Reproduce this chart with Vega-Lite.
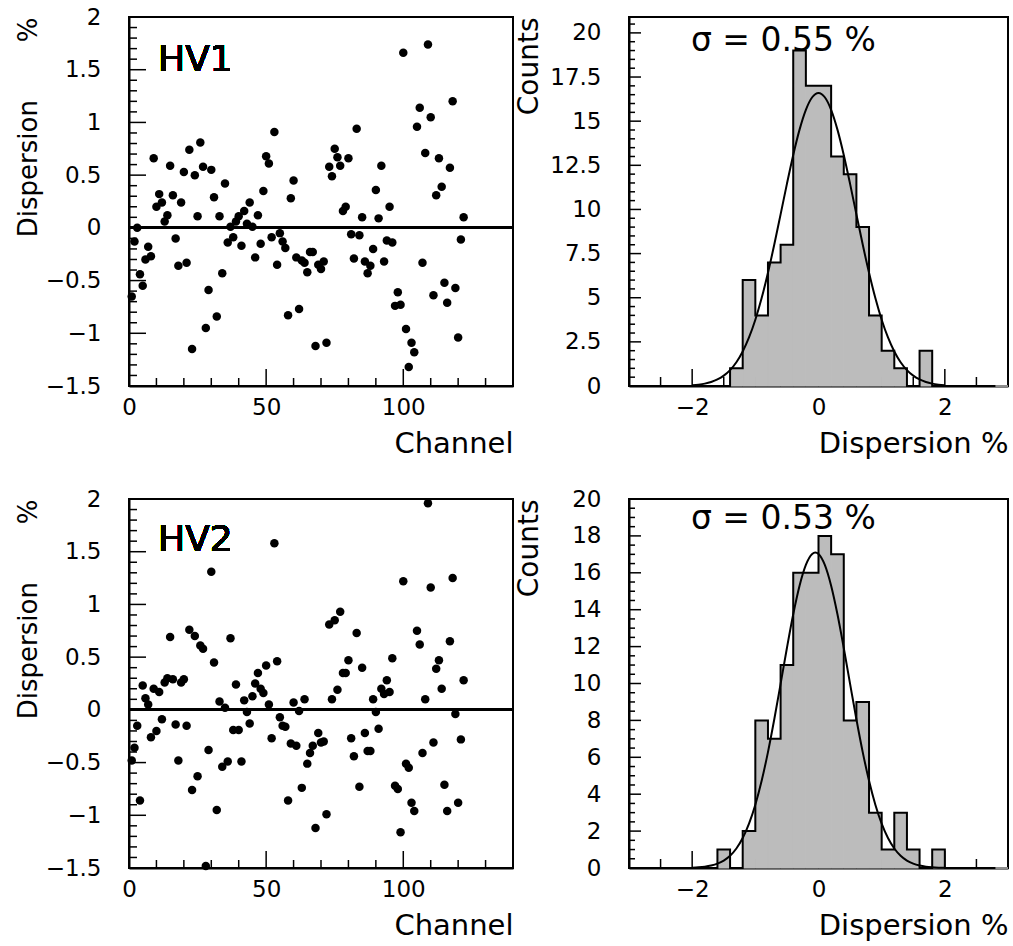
{
  "$schema": "https://vega.github.io/schema/vega-lite/v6.json",
  "background": "white",
  "padding": {"left": 14, "top": 5, "right": 5, "bottom": 5},
  "datasets": {
    "hv1": [
      {"channel":1,"dispersion":-0.65},{"channel":2,"dispersion":-0.13},{"channel":3,"dispersion":0.00},{"channel":4,"dispersion":-0.44},{"channel":5,"dispersion":-0.55},{"channel":6,"dispersion":-0.30},{"channel":7,"dispersion":-0.18},{"channel":8,"dispersion":-0.27},{"channel":9,"dispersion":0.66},{"channel":10,"dispersion":0.20},
      {"channel":11,"dispersion":0.32},{"channel":12,"dispersion":0.24},{"channel":13,"dispersion":0.06},{"channel":14,"dispersion":0.12},{"channel":15,"dispersion":0.59},{"channel":16,"dispersion":0.31},{"channel":17,"dispersion":-0.10},{"channel":18,"dispersion":-0.36},{"channel":19,"dispersion":0.24},{"channel":20,"dispersion":0.53},
      {"channel":21,"dispersion":-0.33},{"channel":22,"dispersion":0.74},{"channel":23,"dispersion":-1.15},{"channel":24,"dispersion":0.50},{"channel":25,"dispersion":0.11},{"channel":26,"dispersion":0.81},{"channel":27,"dispersion":0.58},{"channel":28,"dispersion":-0.95},{"channel":29,"dispersion":-0.59},{"channel":30,"dispersion":0.55},
      {"channel":31,"dispersion":0.29},{"channel":32,"dispersion":-0.84},{"channel":33,"dispersion":0.11},{"channel":34,"dispersion":-0.43},{"channel":35,"dispersion":0.42},{"channel":36,"dispersion":-0.14},{"channel":37,"dispersion":0.01},{"channel":38,"dispersion":-0.09},{"channel":39,"dispersion":0.06},{"channel":40,"dispersion":0.11},
      {"channel":41,"dispersion":-0.17},{"channel":42,"dispersion":0.16},{"channel":43,"dispersion":0.04},{"channel":44,"dispersion":0.24},{"channel":45,"dispersion":0.01},{"channel":46,"dispersion":-0.28},{"channel":47,"dispersion":0.12},{"channel":48,"dispersion":-0.15},{"channel":49,"dispersion":0.35},{"channel":50,"dispersion":0.68},
      {"channel":51,"dispersion":0.61},{"channel":52,"dispersion":-0.09},{"channel":53,"dispersion":0.91},{"channel":54,"dispersion":-0.35},{"channel":55,"dispersion":-0.05},{"channel":56,"dispersion":-0.13},{"channel":57,"dispersion":-0.19},{"channel":58,"dispersion":-0.83},{"channel":59,"dispersion":0.28},{"channel":60,"dispersion":0.45},
      {"channel":61,"dispersion":-0.28},{"channel":62,"dispersion":-0.77},{"channel":63,"dispersion":-0.31},{"channel":64,"dispersion":-0.33},{"channel":65,"dispersion":-0.42},{"channel":66,"dispersion":-0.23},{"channel":67,"dispersion":-0.23},{"channel":68,"dispersion":-1.12},{"channel":69,"dispersion":-0.35},{"channel":70,"dispersion":-0.39},
      {"channel":71,"dispersion":-0.32},{"channel":72,"dispersion":-1.09},{"channel":73,"dispersion":0.58},{"channel":74,"dispersion":0.49},{"channel":75,"dispersion":0.75},{"channel":76,"dispersion":0.67},{"channel":77,"dispersion":0.59},{"channel":78,"dispersion":0.16},{"channel":79,"dispersion":0.20},{"channel":80,"dispersion":0.66},
      {"channel":81,"dispersion":-0.06},{"channel":82,"dispersion":-0.29},{"channel":83,"dispersion":0.94},{"channel":84,"dispersion":-0.07},{"channel":85,"dispersion":0.10},{"channel":86,"dispersion":-0.32},{"channel":87,"dispersion":-0.43},{"channel":88,"dispersion":-0.36},{"channel":89,"dispersion":-0.20},{"channel":90,"dispersion":0.36},
      {"channel":91,"dispersion":0.09},{"channel":92,"dispersion":0.59},{"channel":93,"dispersion":-0.32},{"channel":94,"dispersion":-0.12},{"channel":95,"dispersion":0.20},{"channel":96,"dispersion":-0.14},{"channel":97,"dispersion":-0.74},{"channel":98,"dispersion":-0.61},{"channel":99,"dispersion":-0.73},{"channel":100,"dispersion":1.66},
      {"channel":101,"dispersion":-0.96},{"channel":102,"dispersion":-1.32},{"channel":103,"dispersion":-1.09},{"channel":104,"dispersion":-1.18},{"channel":105,"dispersion":0.96},{"channel":106,"dispersion":1.14},{"channel":107,"dispersion":-0.33},{"channel":108,"dispersion":0.71},{"channel":109,"dispersion":1.74},{"channel":110,"dispersion":1.05},
      {"channel":111,"dispersion":-0.64},{"channel":112,"dispersion":0.31},{"channel":113,"dispersion":0.66},{"channel":114,"dispersion":0.39},{"channel":115,"dispersion":-0.52},{"channel":116,"dispersion":-0.71},{"channel":117,"dispersion":0.57},{"channel":118,"dispersion":1.20},{"channel":119,"dispersion":-0.57},{"channel":120,"dispersion":-1.04},
      {"channel":121,"dispersion":-0.11},{"channel":122,"dispersion":0.10}
    ],
    "hv2": [
      {"channel":1,"dispersion":-0.48},{"channel":2,"dispersion":-0.36},{"channel":3,"dispersion":-0.15},{"channel":4,"dispersion":-0.86},{"channel":5,"dispersion":0.23},{"channel":6,"dispersion":0.11},{"channel":7,"dispersion":0.05},{"channel":8,"dispersion":-0.26},{"channel":9,"dispersion":0.20},{"channel":10,"dispersion":-0.20},
      {"channel":11,"dispersion":0.17},{"channel":12,"dispersion":-0.09},{"channel":13,"dispersion":0.26},{"channel":14,"dispersion":0.30},{"channel":15,"dispersion":0.69},{"channel":16,"dispersion":0.29},{"channel":17,"dispersion":-0.14},{"channel":18,"dispersion":-0.48},{"channel":19,"dispersion":0.26},{"channel":20,"dispersion":0.29},
      {"channel":21,"dispersion":-0.15},{"channel":22,"dispersion":0.76},{"channel":23,"dispersion":-0.76},{"channel":24,"dispersion":0.70},{"channel":25,"dispersion":-0.63},{"channel":26,"dispersion":0.61},{"channel":27,"dispersion":0.58},{"channel":28,"dispersion":-1.48},{"channel":29,"dispersion":-0.38},{"channel":30,"dispersion":1.31},
      {"channel":31,"dispersion":0.45},{"channel":32,"dispersion":-0.95},{"channel":33,"dispersion":0.08},{"channel":34,"dispersion":-0.54},{"channel":35,"dispersion":0.02},{"channel":36,"dispersion":-0.49},{"channel":37,"dispersion":0.68},{"channel":38,"dispersion":-0.19},{"channel":39,"dispersion":0.24},{"channel":40,"dispersion":-0.19},
      {"channel":41,"dispersion":-0.49},{"channel":42,"dispersion":0.09},{"channel":43,"dispersion":-0.02},{"channel":44,"dispersion":-0.13},{"channel":45,"dispersion":0.13},{"channel":46,"dispersion":0.25},{"channel":47,"dispersion":0.35},{"channel":48,"dispersion":0.20},{"channel":49,"dispersion":0.16},{"channel":50,"dispersion":0.42},
      {"channel":51,"dispersion":0.05},{"channel":52,"dispersion":-0.27},{"channel":53,"dispersion":1.58},{"channel":54,"dispersion":0.46},{"channel":55,"dispersion":-0.07},{"channel":56,"dispersion":-0.15},{"channel":57,"dispersion":-0.16},{"channel":58,"dispersion":-0.86},{"channel":59,"dispersion":-0.32},{"channel":60,"dispersion":0.07},
      {"channel":61,"dispersion":-0.34},{"channel":62,"dispersion":-0.01},{"channel":63,"dispersion":-0.74},{"channel":64,"dispersion":0.10},{"channel":65,"dispersion":-0.51},{"channel":66,"dispersion":-0.41},{"channel":67,"dispersion":-0.34},{"channel":68,"dispersion":-1.12},{"channel":69,"dispersion":-0.22},{"channel":70,"dispersion":-0.31},
      {"channel":71,"dispersion":-0.30},{"channel":72,"dispersion":-0.99},{"channel":73,"dispersion":0.81},{"channel":74,"dispersion":0.10},{"channel":75,"dispersion":0.85},{"channel":76,"dispersion":0.19},{"channel":77,"dispersion":0.93},{"channel":78,"dispersion":0.35},{"channel":79,"dispersion":0.35},{"channel":80,"dispersion":0.47},
      {"channel":81,"dispersion":-0.27},{"channel":82,"dispersion":-0.44},{"channel":83,"dispersion":0.73},{"channel":84,"dispersion":-0.73},{"channel":85,"dispersion":0.40},{"channel":86,"dispersion":-0.22},{"channel":87,"dispersion":-0.39},{"channel":88,"dispersion":-0.39},{"channel":89,"dispersion":0.10},{"channel":90,"dispersion":-0.02},
      {"channel":91,"dispersion":-0.18},{"channel":92,"dispersion":0.20},{"channel":93,"dispersion":0.15},{"channel":94,"dispersion":0.28},{"channel":95,"dispersion":0.17},{"channel":96,"dispersion":0.49},{"channel":97,"dispersion":-0.72},{"channel":98,"dispersion":-0.75},{"channel":99,"dispersion":-1.16},{"channel":100,"dispersion":1.22},
      {"channel":101,"dispersion":-0.51},{"channel":102,"dispersion":-0.55},{"channel":103,"dispersion":-0.88},{"channel":104,"dispersion":-0.96},{"channel":105,"dispersion":0.75},{"channel":106,"dispersion":0.62},{"channel":107,"dispersion":-0.41},{"channel":108,"dispersion":0.10},{"channel":109,"dispersion":1.96},{"channel":110,"dispersion":1.16},
      {"channel":111,"dispersion":-0.31},{"channel":112,"dispersion":0.39},{"channel":113,"dispersion":0.47},{"channel":114,"dispersion":0.20},{"channel":115,"dispersion":-0.71},{"channel":116,"dispersion":-0.96},{"channel":117,"dispersion":0.65},{"channel":118,"dispersion":1.25},{"channel":119,"dispersion":-0.04},{"channel":120,"dispersion":-0.88},
      {"channel":121,"dispersion":-0.28},{"channel":122,"dispersion":0.28}
    ],
    "hist1": [
      {"lo":-3.0,"hi":-2.8,"count":0},{"lo":-2.8,"hi":-2.6,"count":0},{"lo":-2.6,"hi":-2.4,"count":0},{"lo":-2.4,"hi":-2.2,"count":0},{"lo":-2.2,"hi":-2.0,"count":0},
      {"lo":-2.0,"hi":-1.8,"count":0},{"lo":-1.8,"hi":-1.6,"count":0},{"lo":-1.6,"hi":-1.4,"count":0},{"lo":-1.4,"hi":-1.2,"count":1},{"lo":-1.2,"hi":-1.0,"count":6},
      {"lo":-1.0,"hi":-0.8,"count":4},{"lo":-0.8,"hi":-0.6,"count":7},{"lo":-0.6,"hi":-0.4,"count":8},{"lo":-0.4,"hi":-0.2,"count":19},{"lo":-0.2,"hi":0.0,"count":17},
      {"lo":0.0,"hi":0.2,"count":17},{"lo":0.2,"hi":0.4,"count":13},{"lo":0.4,"hi":0.6,"count":12},{"lo":0.6,"hi":0.8,"count":9},{"lo":0.8,"hi":1.0,"count":4},
      {"lo":1.0,"hi":1.2,"count":2},{"lo":1.2,"hi":1.4,"count":1},{"lo":1.4,"hi":1.6,"count":0},{"lo":1.6,"hi":1.8,"count":2},{"lo":1.8,"hi":2.0,"count":0},
      {"lo":2.0,"hi":2.2,"count":0},{"lo":2.2,"hi":2.4,"count":0},{"lo":2.4,"hi":2.6,"count":0},{"lo":2.6,"hi":2.8,"count":0},{"lo":2.8,"hi":3.0,"count":0}
    ],
    "hist2": [
      {"lo":-3.0,"hi":-2.8,"count":0},{"lo":-2.8,"hi":-2.6,"count":0},{"lo":-2.6,"hi":-2.4,"count":0},{"lo":-2.4,"hi":-2.2,"count":0},{"lo":-2.2,"hi":-2.0,"count":0},
      {"lo":-2.0,"hi":-1.8,"count":0},{"lo":-1.8,"hi":-1.6,"count":0},{"lo":-1.6,"hi":-1.4,"count":1},{"lo":-1.4,"hi":-1.2,"count":0},{"lo":-1.2,"hi":-1.0,"count":2},
      {"lo":-1.0,"hi":-0.8,"count":8},{"lo":-0.8,"hi":-0.6,"count":7},{"lo":-0.6,"hi":-0.4,"count":11},{"lo":-0.4,"hi":-0.2,"count":16},{"lo":-0.2,"hi":0.0,"count":16},
      {"lo":0.0,"hi":0.2,"count":18},{"lo":0.2,"hi":0.4,"count":17},{"lo":0.4,"hi":0.6,"count":8},{"lo":0.6,"hi":0.8,"count":9},{"lo":0.8,"hi":1.0,"count":3},
      {"lo":1.0,"hi":1.2,"count":1},{"lo":1.2,"hi":1.4,"count":3},{"lo":1.4,"hi":1.6,"count":1},{"lo":1.6,"hi":1.8,"count":0},{"lo":1.8,"hi":2.0,"count":1},
      {"lo":2.0,"hi":2.2,"count":0},{"lo":2.2,"hi":2.4,"count":0},{"lo":2.4,"hi":2.6,"count":0},{"lo":2.6,"hi":2.8,"count":0},{"lo":2.8,"hi":3.0,"count":0}
    ],
    "fit1": [
      {"x":-2.0,"y":0.043},{"x":-1.9,"y":0.078},{"x":-1.8,"y":0.134},{"x":-1.7,"y":0.226},{"x":-1.6,"y":0.370},{"x":-1.5,"y":0.586},{"x":-1.4,"y":0.902},{"x":-1.3,"y":1.346},{"x":-1.2,"y":1.953},{"x":-1.1,"y":2.748},
      {"x":-1.0,"y":3.755},{"x":-0.9,"y":4.980},{"x":-0.8,"y":6.412},{"x":-0.7,"y":8.013},{"x":-0.6,"y":9.721},{"x":-0.5,"y":11.448},{"x":-0.4,"y":13.087},{"x":-0.3,"y":14.521},{"x":-0.2,"y":15.642},{"x":-0.1,"y":16.355},
      {"x":0.0,"y":16.6},
      {"x":0.1,"y":16.355},{"x":0.2,"y":15.642},{"x":0.3,"y":14.521},{"x":0.4,"y":13.087},{"x":0.5,"y":11.448},{"x":0.6,"y":9.721},{"x":0.7,"y":8.013},{"x":0.8,"y":6.412},{"x":0.9,"y":4.980},{"x":1.0,"y":3.755},
      {"x":1.1,"y":2.748},{"x":1.2,"y":1.953},{"x":1.3,"y":1.346},{"x":1.4,"y":0.902},{"x":1.5,"y":0.586},{"x":1.6,"y":0.370},{"x":1.7,"y":0.226},{"x":1.8,"y":0.134},{"x":1.9,"y":0.078},{"x":2.0,"y":0.043}
    ],
    "fit2": [
      {"x":-2.0,"y":0.020},{"x":-1.9,"y":0.039},{"x":-1.8,"y":0.073},{"x":-1.7,"y":0.135},{"x":-1.6,"y":0.238},{"x":-1.5,"y":0.405},{"x":-1.4,"y":0.667},{"x":-1.3,"y":1.059},{"x":-1.2,"y":1.624},{"x":-1.1,"y":2.403},
      {"x":-1.0,"y":3.430},{"x":-0.9,"y":4.726},{"x":-0.8,"y":6.283},{"x":-0.7,"y":8.061},{"x":-0.6,"y":9.981},{"x":-0.5,"y":11.925},{"x":-0.4,"y":13.750},{"x":-0.3,"y":15.300},{"x":-0.2,"y":16.429},{"x":-0.1,"y":17.024},
      {"x":-0.05,"y":17.1},
      {"x":0.0,"y":17.024},{"x":0.1,"y":16.429},{"x":0.2,"y":15.300},{"x":0.3,"y":13.750},{"x":0.4,"y":11.925},{"x":0.5,"y":9.981},{"x":0.6,"y":8.061},{"x":0.7,"y":6.283},{"x":0.8,"y":4.726},{"x":0.9,"y":3.430},
      {"x":1.0,"y":2.403},{"x":1.1,"y":1.624},{"x":1.2,"y":1.059},{"x":1.3,"y":0.667},{"x":1.4,"y":0.405},{"x":1.5,"y":0.238},{"x":1.6,"y":0.135},{"x":1.7,"y":0.073},{"x":1.8,"y":0.039},{"x":1.9,"y":0.020},{"x":2.0,"y":0.010}
    ],
    "sxMajor": [{"v":0},{"v":50},{"v":100}],
    "sxMinor": [{"v":10},{"v":20},{"v":30},{"v":40},{"v":60},{"v":70},{"v":80},{"v":90},{"v":110},{"v":120},{"v":130}],
    "syMajor": [{"v":-1.5},{"v":-1},{"v":-0.5},{"v":0},{"v":0.5},{"v":1},{"v":1.5},{"v":2}],
    "syMinor": [{"v":-1.4},{"v":-1.3},{"v":-1.2},{"v":-1.1},{"v":-0.9},{"v":-0.8},{"v":-0.7},{"v":-0.6},{"v":-0.4},{"v":-0.3},{"v":-0.2},{"v":-0.1},{"v":0.1},{"v":0.2},{"v":0.3},{"v":0.4},{"v":0.6},{"v":0.7},{"v":0.8},{"v":0.9},{"v":1.1},{"v":1.2},{"v":1.3},{"v":1.4},{"v":1.6},{"v":1.7},{"v":1.8},{"v":1.9}],
    "hxMajor": [{"v":-2},{"v":0},{"v":2}],
    "hxMinor": [{"v":-2.5},{"v":-1.5},{"v":-1},{"v":-0.5},{"v":0.5},{"v":1},{"v":1.5},{"v":2.5}],
    "h1yMajor": [{"v":0},{"v":2.5},{"v":5},{"v":7.5},{"v":10},{"v":12.5},{"v":15},{"v":17.5},{"v":20}],
    "h1yMinor": [{"v":0.5},{"v":1},{"v":1.5},{"v":2},{"v":3},{"v":3.5},{"v":4},{"v":4.5},{"v":5.5},{"v":6},{"v":6.5},{"v":7},{"v":8},{"v":8.5},{"v":9},{"v":9.5},{"v":10.5},{"v":11},{"v":11.5},{"v":12},{"v":13},{"v":13.5},{"v":14},{"v":14.5},{"v":15.5},{"v":16},{"v":16.5},{"v":17},{"v":18},{"v":18.5},{"v":19},{"v":19.5},{"v":20.5}],
    "h2yMajor": [{"v":0},{"v":2},{"v":4},{"v":6},{"v":8},{"v":10},{"v":12},{"v":14},{"v":16},{"v":18},{"v":20}],
    "h2yMinor": [{"v":0.5},{"v":1},{"v":1.5},{"v":2.5},{"v":3},{"v":3.5},{"v":4.5},{"v":5},{"v":5.5},{"v":6.5},{"v":7},{"v":7.5},{"v":8.5},{"v":9},{"v":9.5},{"v":10.5},{"v":11},{"v":11.5},{"v":12.5},{"v":13},{"v":13.5},{"v":14.5},{"v":15},{"v":15.5},{"v":16.5},{"v":17},{"v":17.5},{"v":18.5},{"v":19},{"v":19.5}]
  },
  "config": {
    "font": "DejaVu Sans",
    "view": {"stroke": "black", "strokeWidth": 2},
    "axis": {
      "ticks": false,
      "grid": false,
      "tickCount": 1000,
      "domainColor": "black",
      "domainWidth": 2,
      "labelFont": "DejaVu Sans",
      "labelFontSize": 23,
      "labelColor": "black",
      "labelFlush": false,
      "labelOverlap": false,
      "titleFont": "DejaVu Sans",
      "titleFontSize": 29,
      "titleFontWeight": "normal",
      "titleColor": "black",
      "format": ".4~r"
    },
    "text": {"font": "DejaVu Sans", "color": "black"}
  },
  "concat": [
    {
      "width": 384, "height": 369,
      "data": {"name": "hv1"},
      "layer": [
        {"data": {"name": "sxMajor"}, "mark": {"type": "rule", "color": "black", "strokeWidth": 1.5, "y2Offset": -17},
         "encoding": {"x": {"field": "v", "type": "quantitative", "scale": {"domain": [0, 140], "nice": false, "zero": false}},
                      "y": {"datum": -1.5, "type": "quantitative", "scale": {"domain": [-1.5, 2], "nice": false, "zero": false}}, "y2": {"datum": -1.5}}},
        {"data": {"name": "sxMinor"}, "mark": {"type": "rule", "color": "black", "strokeWidth": 1.5, "y2Offset": -8},
         "encoding": {"x": {"field": "v", "type": "quantitative", "scale": {"domain": [0, 140], "nice": false, "zero": false}},
                      "y": {"datum": -1.5, "type": "quantitative", "scale": {"domain": [-1.5, 2], "nice": false, "zero": false}}, "y2": {"datum": -1.5}}},
        {"data": {"name": "syMajor"}, "mark": {"type": "rule", "color": "black", "strokeWidth": 1.5, "x2Offset": 17},
         "encoding": {"y": {"field": "v", "type": "quantitative", "scale": {"domain": [-1.5, 2], "nice": false, "zero": false}},
                      "x": {"datum": 0, "type": "quantitative", "scale": {"domain": [0, 140], "nice": false, "zero": false}}, "x2": {"datum": 0}}},
        {"data": {"name": "syMinor"}, "mark": {"type": "rule", "color": "black", "strokeWidth": 1.5, "x2Offset": 8},
         "encoding": {"y": {"field": "v", "type": "quantitative", "scale": {"domain": [-1.5, 2], "nice": false, "zero": false}},
                      "x": {"datum": 0, "type": "quantitative", "scale": {"domain": [0, 140], "nice": false, "zero": false}}, "x2": {"datum": 0}}},
        {"mark": {"type": "rule", "color": "black", "strokeWidth": 2},
         "encoding": {"y": {"datum": 0, "type": "quantitative", "scale": {"domain": [-1.5, 2], "nice": false, "zero": false}}}},
        {"mark": {"type": "point", "shape": "circle", "filled": true, "color": "black", "opacity": 1, "size": 72},
         "encoding": {
           "x": {"field": "channel", "type": "quantitative", "scale": {"domain": [0, 140], "nice": false, "zero": false},
                 "axis": {"orient": "bottom", "title": "Channel", "titleAnchor": "end", "titlePadding": 10, "labelPadding": 10, "labelOverlap": false, "tickCount": 1000,
                          "values": [0, 50, 100]}},
           "y": {"field": "dispersion", "type": "quantitative", "scale": {"domain": [-1.5, 2], "nice": false, "zero": false},
                 "axis": {"orient": "left", "title": "Dispersion\u00a0\u00a0\u00a0\u00a0\u00a0\u00a0\u00a0%", "titleFontSize": 26, "titleAnchor": "end", "titlePadding": 4, "labelPadding": 28, "labelOverlap": false, "tickCount": 1000,
                          "values": [-1.5,-1,-0.5,0,0.5,1,1.5,2]}}
         }},
        {"mark": {"type": "text", "text": "HV1", "fontSize": 36, "align": "left", "baseline": "alphabetic"},
         "encoding": {
           "x": {"datum": 10.6, "type": "quantitative", "scale": {"domain": [0, 140], "nice": false, "zero": false}},
           "y": {"datum": 1.49, "type": "quantitative", "scale": {"domain": [-1.5, 2], "nice": false, "zero": false}}
         }}
      ]
    },
    {
      "width": 379, "height": 369,
      "layer": [
        {"data": {"name": "hxMajor"}, "mark": {"type": "rule", "color": "black", "strokeWidth": 1.5, "y2Offset": -17},
         "encoding": {"x": {"field": "v", "type": "quantitative", "scale": {"domain": [-3, 3], "nice": false, "zero": false}},
                      "y": {"datum": 0, "type": "quantitative", "scale": {"domain": [0, 20.9], "nice": false, "zero": true}}, "y2": {"datum": 0}}},
        {"data": {"name": "hxMinor"}, "mark": {"type": "rule", "color": "black", "strokeWidth": 1.5, "y2Offset": -9},
         "encoding": {"x": {"field": "v", "type": "quantitative", "scale": {"domain": [-3, 3], "nice": false, "zero": false}},
                      "y": {"datum": 0, "type": "quantitative", "scale": {"domain": [0, 20.9], "nice": false, "zero": true}}, "y2": {"datum": 0}}},
        {"data": {"name": "h1yMajor"}, "mark": {"type": "rule", "color": "black", "strokeWidth": 1.5, "x2Offset": 12},
         "encoding": {"y": {"field": "v", "type": "quantitative", "scale": {"domain": [0, 20.9], "nice": false, "zero": true}},
                      "x": {"datum": -3, "type": "quantitative", "scale": {"domain": [-3, 3], "nice": false, "zero": false}}, "x2": {"datum": -3}}},
        {"data": {"name": "h1yMinor"}, "mark": {"type": "rule", "color": "black", "strokeWidth": 1.5, "x2Offset": 6},
         "encoding": {"y": {"field": "v", "type": "quantitative", "scale": {"domain": [0, 20.9], "nice": false, "zero": true}},
                      "x": {"datum": -3, "type": "quantitative", "scale": {"domain": [-3, 3], "nice": false, "zero": false}}, "x2": {"datum": -3}}},
        {"data": {"name": "hist1"},
         "mark": {"type": "rect", "color": "#bcbcbc", "stroke": "#bcbcbc", "strokeWidth": 1},
         "encoding": {
           "x": {"field": "lo", "type": "quantitative", "scale": {"domain": [-3, 3], "nice": false, "zero": false},
                 "axis": {"orient": "bottom", "title": "Dispersion %", "titleAnchor": "end", "titlePadding": 10, "labelPadding": 10, "labelOverlap": false, "tickCount": 1000,
                          "values": [-2, 0, 2]}},
           "x2": {"field": "hi"},
           "y": {"field": "count", "type": "quantitative", "scale": {"domain": [0, 20.9], "nice": false, "zero": true},
                 "axis": {"orient": "left", "title": "Counts", "titleFontSize": 28, "titleAnchor": "end", "titlePadding": 6, "labelPadding": 28, "labelOverlap": false, "tickCount": 1000,
                          "values": [0,2.5,5,7.5,10,12.5,15,17.5,20]}},
           "y2": {"datum": 0}
         }},
        {"data": {"name": "hist1"},
         "mark": {"type": "line", "interpolate": "step-after", "color": "black", "strokeWidth": 2},
         "encoding": {
           "x": {"field": "lo", "type": "quantitative", "scale": {"domain": [-3, 3], "nice": false, "zero": false}},
           "y": {"field": "count", "type": "quantitative", "scale": {"domain": [0, 20.9], "nice": false, "zero": true}}
         }},
        {"data": {"name": "fit1"},
         "mark": {"type": "line", "interpolate": "monotone", "color": "black", "strokeWidth": 2},
         "encoding": {
           "x": {"field": "x", "type": "quantitative", "scale": {"domain": [-3, 3], "nice": false, "zero": false}},
           "y": {"field": "y", "type": "quantitative", "scale": {"domain": [0, 20.9], "nice": false, "zero": true}}
         }},
        {"data": {"values": [{}]},
         "mark": {"type": "text", "text": "σ = 0.55 %", "fontSize": 33, "align": "left", "baseline": "alphabetic"},
         "encoding": {
           "x": {"datum": -2.02, "type": "quantitative", "scale": {"domain": [-3, 3], "nice": false, "zero": false}},
           "y": {"datum": 18.98, "type": "quantitative", "scale": {"domain": [0, 20.9], "nice": false, "zero": true}}
         }}
      ]
    },
    {
      "width": 384, "height": 369,
      "data": {"name": "hv2"},
      "layer": [
        {"data": {"name": "sxMajor"}, "mark": {"type": "rule", "color": "black", "strokeWidth": 1.5, "y2Offset": -17},
         "encoding": {"x": {"field": "v", "type": "quantitative", "scale": {"domain": [0, 140], "nice": false, "zero": false}},
                      "y": {"datum": -1.5, "type": "quantitative", "scale": {"domain": [-1.5, 2], "nice": false, "zero": false}}, "y2": {"datum": -1.5}}},
        {"data": {"name": "sxMinor"}, "mark": {"type": "rule", "color": "black", "strokeWidth": 1.5, "y2Offset": -8},
         "encoding": {"x": {"field": "v", "type": "quantitative", "scale": {"domain": [0, 140], "nice": false, "zero": false}},
                      "y": {"datum": -1.5, "type": "quantitative", "scale": {"domain": [-1.5, 2], "nice": false, "zero": false}}, "y2": {"datum": -1.5}}},
        {"data": {"name": "syMajor"}, "mark": {"type": "rule", "color": "black", "strokeWidth": 1.5, "x2Offset": 17},
         "encoding": {"y": {"field": "v", "type": "quantitative", "scale": {"domain": [-1.5, 2], "nice": false, "zero": false}},
                      "x": {"datum": 0, "type": "quantitative", "scale": {"domain": [0, 140], "nice": false, "zero": false}}, "x2": {"datum": 0}}},
        {"data": {"name": "syMinor"}, "mark": {"type": "rule", "color": "black", "strokeWidth": 1.5, "x2Offset": 8},
         "encoding": {"y": {"field": "v", "type": "quantitative", "scale": {"domain": [-1.5, 2], "nice": false, "zero": false}},
                      "x": {"datum": 0, "type": "quantitative", "scale": {"domain": [0, 140], "nice": false, "zero": false}}, "x2": {"datum": 0}}},
        {"mark": {"type": "rule", "color": "black", "strokeWidth": 2},
         "encoding": {"y": {"datum": 0, "type": "quantitative", "scale": {"domain": [-1.5, 2], "nice": false, "zero": false}}}},
        {"mark": {"type": "point", "shape": "circle", "filled": true, "color": "black", "opacity": 1, "size": 72},
         "encoding": {
           "x": {"field": "channel", "type": "quantitative", "scale": {"domain": [0, 140], "nice": false, "zero": false},
                 "axis": {"orient": "bottom", "title": "Channel", "titleAnchor": "end", "titlePadding": 10, "labelPadding": 10, "labelOverlap": false, "tickCount": 1000,
                          "values": [0, 50, 100]}},
           "y": {"field": "dispersion", "type": "quantitative", "scale": {"domain": [-1.5, 2], "nice": false, "zero": false},
                 "axis": {"orient": "left", "title": "Dispersion\u00a0\u00a0\u00a0\u00a0\u00a0\u00a0\u00a0%", "titleFontSize": 26, "titleAnchor": "end", "titlePadding": 4, "labelPadding": 28, "labelOverlap": false, "tickCount": 1000,
                          "values": [-1.5,-1,-0.5,0,0.5,1,1.5,2]}}
         }},
        {"mark": {"type": "text", "text": "HV2", "fontSize": 36, "align": "left", "baseline": "alphabetic"},
         "encoding": {
           "x": {"datum": 10.6, "type": "quantitative", "scale": {"domain": [0, 140], "nice": false, "zero": false}},
           "y": {"datum": 1.51, "type": "quantitative", "scale": {"domain": [-1.5, 2], "nice": false, "zero": false}}
         }}
      ]
    },
    {
      "width": 379, "height": 369,
      "layer": [
        {"data": {"name": "hxMajor"}, "mark": {"type": "rule", "color": "black", "strokeWidth": 1.5, "y2Offset": -17},
         "encoding": {"x": {"field": "v", "type": "quantitative", "scale": {"domain": [-3, 3], "nice": false, "zero": false}},
                      "y": {"datum": 0, "type": "quantitative", "scale": {"domain": [0, 20], "nice": false, "zero": true}}, "y2": {"datum": 0}}},
        {"data": {"name": "hxMinor"}, "mark": {"type": "rule", "color": "black", "strokeWidth": 1.5, "y2Offset": -9},
         "encoding": {"x": {"field": "v", "type": "quantitative", "scale": {"domain": [-3, 3], "nice": false, "zero": false}},
                      "y": {"datum": 0, "type": "quantitative", "scale": {"domain": [0, 20], "nice": false, "zero": true}}, "y2": {"datum": 0}}},
        {"data": {"name": "h2yMajor"}, "mark": {"type": "rule", "color": "black", "strokeWidth": 1.5, "x2Offset": 12},
         "encoding": {"y": {"field": "v", "type": "quantitative", "scale": {"domain": [0, 20], "nice": false, "zero": true}},
                      "x": {"datum": -3, "type": "quantitative", "scale": {"domain": [-3, 3], "nice": false, "zero": false}}, "x2": {"datum": -3}}},
        {"data": {"name": "h2yMinor"}, "mark": {"type": "rule", "color": "black", "strokeWidth": 1.5, "x2Offset": 6},
         "encoding": {"y": {"field": "v", "type": "quantitative", "scale": {"domain": [0, 20], "nice": false, "zero": true}},
                      "x": {"datum": -3, "type": "quantitative", "scale": {"domain": [-3, 3], "nice": false, "zero": false}}, "x2": {"datum": -3}}},
        {"data": {"name": "hist2"},
         "mark": {"type": "rect", "color": "#bcbcbc", "stroke": "#bcbcbc", "strokeWidth": 1},
         "encoding": {
           "x": {"field": "lo", "type": "quantitative", "scale": {"domain": [-3, 3], "nice": false, "zero": false},
                 "axis": {"orient": "bottom", "title": "Dispersion %", "titleAnchor": "end", "titlePadding": 10, "labelPadding": 10, "labelOverlap": false, "tickCount": 1000,
                          "values": [-2, 0, 2]}},
           "x2": {"field": "hi"},
           "y": {"field": "count", "type": "quantitative", "scale": {"domain": [0, 20], "nice": false, "zero": true},
                 "axis": {"orient": "left", "title": "Counts", "titleFontSize": 28, "titleAnchor": "end", "titlePadding": 28, "labelPadding": 28, "labelOverlap": false, "tickCount": 1000,
                          "values": [0,2,4,6,8,10,12,14,16,18,20]}},
           "y2": {"datum": 0}
         }},
        {"data": {"name": "hist2"},
         "mark": {"type": "line", "interpolate": "step-after", "color": "black", "strokeWidth": 2},
         "encoding": {
           "x": {"field": "lo", "type": "quantitative", "scale": {"domain": [-3, 3], "nice": false, "zero": false}},
           "y": {"field": "count", "type": "quantitative", "scale": {"domain": [0, 20], "nice": false, "zero": true}}
         }},
        {"data": {"name": "fit2"},
         "mark": {"type": "line", "interpolate": "monotone", "color": "black", "strokeWidth": 2},
         "encoding": {
           "x": {"field": "x", "type": "quantitative", "scale": {"domain": [-3, 3], "nice": false, "zero": false}},
           "y": {"field": "y", "type": "quantitative", "scale": {"domain": [0, 20], "nice": false, "zero": true}}
         }},
        {"data": {"values": [{}]},
         "mark": {"type": "text", "text": "σ = 0.53 %", "fontSize": 33, "align": "left", "baseline": "alphabetic"},
         "encoding": {
           "x": {"datum": -2.02, "type": "quantitative", "scale": {"domain": [-3, 3], "nice": false, "zero": false}},
           "y": {"datum": 18.4, "type": "quantitative", "scale": {"domain": [0, 20], "nice": false, "zero": true}}
         }}
      ]
    }
  ],
  "columns": 2,
  "bounds": "flush",
  "spacing": {"row": 113, "column": 116}
}
